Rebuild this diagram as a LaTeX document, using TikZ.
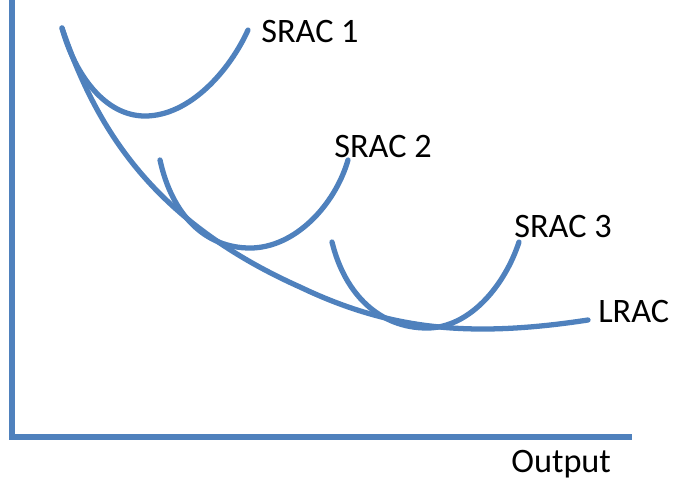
\documentclass[tikz,border=0pt]{standalone}
\usepackage{fontspec}
\setmainfont{Carlito}
\definecolor{curveblue}{RGB}{79,129,189}
\tikzset{cost/.style = {draw=curveblue, line width=3pt, line cap=round, line join=round},
         axis/.style = {draw=curveblue, line width=3pt},
         lbl/.style  = {anchor=west, inner sep=0pt, font=\fontsize{19.5}{22}\selectfont}}

\begin{document}
\begin{tikzpicture}[x=0.02cm, y=-0.02cm]
      \useasboundingbox (0,0) rectangle (673,481);
      % axes
      \coordinate (top) at (12,0);
      \coordinate (origin) at (12,437);
      \coordinate (xend) at (632,437);
      \draw [axis] (top) -- (origin) -- (xend);
      % long run curve
      \draw [cost] (62,28) .. controls (95,125) and (150,220) .. (300,287)
                           .. controls (390,330) and (470,338) .. (588,320);
      % short run curves
      \draw [cost] (62,28) .. controls (75,75) and (105,116) .. (145,116)
                           .. controls (190,116) and (230,70) .. (248,30);
      \draw [cost] (160,160) .. controls (172,215) and (205,248) .. (250,248)
                             .. controls (295,248) and (335,205) .. (348,160);
      \draw [cost] (332,242) .. controls (345,295) and (380,328) .. (427,328)
                             .. controls (470,328) and (505,285) .. (519,242);
      % labels
      \node [lbl] (srac1) at (261,31) {SRAC 1};
      \node [lbl] (srac2) at (334,146) {SRAC 2};
      \node [lbl] (srac3) at (514,226) {SRAC 3};
      \node [lbl] (lrac) at (598,311) {LRAC};
      \node [lbl, anchor=base west] (output) at (511,472) {Output};
\end{tikzpicture}
\end{document}
